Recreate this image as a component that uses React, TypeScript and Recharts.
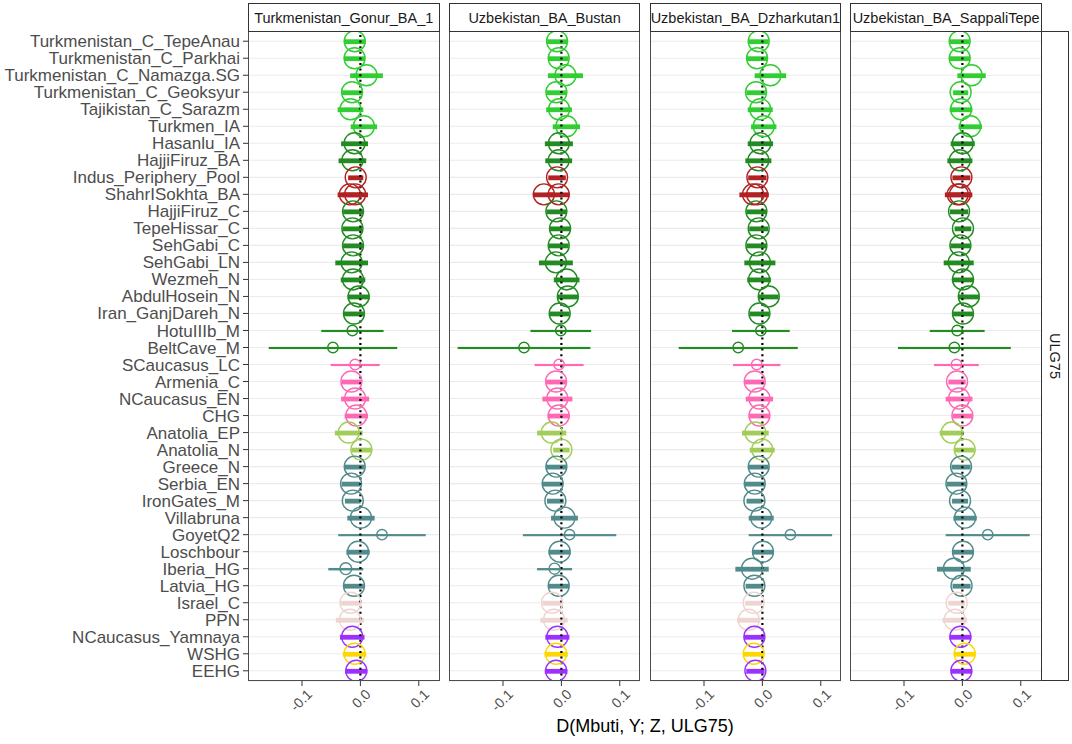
import React from 'react';
import {
  ComposedChart,
  CartesianGrid,
  XAxis,
  YAxis,
  Bar,
  Scatter,
  ReferenceLine,
} from 'recharts';

// populations (Y), ShahrISokhta_BA appears twice (two sample sets on the same row)
const populations = [
  'Turkmenistan_C_TepeAnau',
  'Turkmenistan_C_Parkhai',
  'Turkmenistan_C_Namazga.SG',
  'Turkmenistan_C_Geoksyur',
  'Tajikistan_C_Sarazm',
  'Turkmen_IA',
  'Hasanlu_IA',
  'HajjiFiruz_BA',
  'Indus_Periphery_Pool',
  'ShahrISokhta_BA',
  'ShahrISokhta_BA',
  'HajjiFiruz_C',
  'TepeHissar_C',
  'SehGabi_C',
  'SehGabi_LN',
  'Wezmeh_N',
  'AbdulHosein_N',
  'Iran_GanjDareh_N',
  'HotuIIIb_M',
  'BeltCave_M',
  'SCaucasus_LC',
  'Armenia_C',
  'NCaucasus_EN',
  'CHG',
  'Anatolia_EP',
  'Anatolia_N',
  'Greece_N',
  'Serbia_EN',
  'IronGates_M',
  'Villabruna',
  'GoyetQ2',
  'Loschbour',
  'Iberia_HG',
  'Latvia_HG',
  'Israel_C',
  'PPN',
  'NCaucasus_Yamnaya',
  'WSHG',
  'EEHG',
];

const regions = [
  'turan', 'turan', 'turan', 'turan', 'turan', 'turan',
  'iran', 'iran',
  'indus', 'indus', 'indus',
  'iran', 'iran', 'iran', 'iran', 'iran', 'iran', 'iran', 'iran', 'iran',
  'caucasus', 'caucasus', 'caucasus', 'caucasus',
  'anatolia', 'anatolia',
  'europe', 'europe', 'europe', 'europe', 'europe', 'europe', 'europe', 'europe',
  'levant', 'levant',
  'steppe', 'wshg', 'steppe',
];

const regionColors: Record<string, string> = {
  turan: '#32CD32',
  iran: '#228B22',
  indus: '#B22222',
  caucasus: '#FF69B4',
  anatolia: '#A2CD5A',
  europe: '#528B8B',
  levant: '#EED5D2',
  steppe: '#9B30FF',
  wshg: '#FFD700',
};

const targets = [
  'Turkmenistan_Gonur_BA_1',
  'Uzbekistan_BA_Bustan',
  'Uzbekistan_BA_Dzharkutan1',
  'Uzbekistan_BA_SappaliTepe',
];
const outgroup = 'ULG75';
const xTicks = [-0.1, 0, 0.1];

// D statistic and standard error per target
const gonurD = [
  -0.0097, -0.01, 0.0105, -0.0143, -0.017, 0.006, -0.01, -0.0137, -0.008, -0.018,
  -0.009, -0.0126, -0.0137, -0.0126, -0.015, -0.0126, -0.003, -0.011, -0.0137, -0.047,
  -0.009, -0.0154, -0.009, -0.007, -0.02, 0.0017, -0.0097, -0.016, -0.013, 0.001,
  0.037, -0.004, -0.025, -0.011, -0.017, -0.018, -0.014, -0.01, -0.007,
];
const gonurSE = [
  0.0186, 0.018, 0.028, 0.017, 0.022, 0.0226, 0.023, 0.0237, 0.013, 0.021,
  0.022, 0.017, 0.017, 0.017, 0.028, 0.021, 0.019, 0.017, 0.0534, 0.11,
  0.042, 0.017, 0.024, 0.02, 0.0237, 0.017, 0.017, 0.016, 0.0134, 0.0234,
  0.075, 0.02, 0.03, 0.017, 0.016, 0.024, 0.021, 0.02, 0.019,
];
const bustanD = [
  -0.0074, -0.0046, 0.0069, -0.0086, -0.004, 0.0086, -0.0043, -0.0046, -0.0074, -0.03,
  -0.0046, -0.0086, -0.0023, -0.0046, -0.0094, 0.009, 0.011, -0.0029, -0.001, -0.064,
  -0.004, -0.0091, -0.0069, -0.0046, -0.0166, 0.0, -0.0086, -0.015, -0.0103, 0.0053,
  0.014, -0.003, -0.0117, -0.0046, -0.016, -0.0126, -0.0069, -0.0091, -0.0091,
];
const bustanSE = [
  0.017, 0.017, 0.03, 0.017, 0.022, 0.0234, 0.024, 0.023, 0.015, 0.019,
  0.019, 0.017, 0.018, 0.017, 0.029, 0.022, 0.0175, 0.017, 0.052, 0.1137,
  0.042, 0.017, 0.0257, 0.019, 0.025, 0.014, 0.018, 0.018, 0.0143, 0.023,
  0.08, 0.019, 0.03, 0.018, 0.016, 0.0234, 0.0206, 0.02, 0.0194,
];
const dzharkutanD = [
  -0.0063, -0.0091, 0.0137, -0.0109, -0.0037, 0.0023, -0.0034, -0.0069, -0.0086, -0.016,
  -0.009, -0.0103, -0.0063, -0.0103, -0.0043, -0.0057, 0.0109, -0.0051, -0.0026, -0.0414,
  -0.0097, -0.0131, -0.0051, -0.0051, -0.012, -0.0003, -0.0063, -0.0131, -0.0137, -0.002,
  0.048, 0.001, -0.0177, -0.0137, -0.0149, -0.0234, -0.0137, -0.0149, -0.012,
];
const dzharkutanSE = [
  0.017, 0.0177, 0.027, 0.0166, 0.0214, 0.0217, 0.0217, 0.0223, 0.0157, 0.0234,
  0.02, 0.017, 0.0163, 0.017, 0.0266, 0.0203, 0.017, 0.017, 0.0494, 0.102,
  0.0406, 0.0169, 0.0234, 0.018, 0.0229, 0.0214, 0.017, 0.017, 0.0134, 0.0214,
  0.0714, 0.0186, 0.0286, 0.015, 0.0146, 0.02, 0.0177, 0.0177, 0.0157,
];
const sappaliD = [
  -0.0046, -0.0046, 0.0157, -0.003, -0.0023, 0.0135, 0.0006, -0.0043, -0.0017, -0.008,
  -0.004, -0.0057, 0.001, -0.0034, -0.0063, 0.001, 0.011, 0.001, -0.0089, -0.0137,
  -0.0103, -0.0091, -0.0057, 0.0, -0.0183, 0.004, -0.0023, -0.0103, -0.004, 0.0046,
  0.0434, 0.001, -0.0146, -0.0014, -0.0097, -0.0131, -0.0034, 0.004, -0.0017,
];
const sappaliSE = [
  0.017, 0.0177, 0.0243, 0.0129, 0.0194, 0.02, 0.0206, 0.0214, 0.0154, 0.022,
  0.021, 0.0157, 0.0143, 0.017, 0.0257, 0.019, 0.018, 0.017, 0.047, 0.0966,
  0.0383, 0.0149, 0.0229, 0.017, 0.0206, 0.0166, 0.0163, 0.0166, 0.0137, 0.02,
  0.072, 0.0177, 0.0289, 0.0154, 0.0143, 0.0211, 0.0186, 0.0186, 0.0183,
];

// relative number of informative SNPs (drives point size / bar weight)
const small = [18, 19, 20, 30];
const snpWeight = (iberia: number) =>
  populations.map((p, i) => (small.includes(i) ? 0.2 : i === 32 ? iberia : 1));
const gonurW = snpWeight(0.3);
const bustanW = snpWeight(0.25);
const dzharkutanW = snpWeight(1);
const sappaliW = snpWeight(1);

const panels = [
  { d: gonurD, se: gonurSE, w: gonurW },
  { d: bustanD, se: bustanSE, w: bustanW },
  { d: dzharkutanD, se: dzharkutanSE, w: dzharkutanW },
  { d: sappaliD, se: sappaliSE, w: sappaliW },
];

const rowLabels = populations.filter((p, i) => populations.indexOf(p) === i);
const rowTicks = rowLabels.map((_, i) => i);

const FONT = '"Liberation Sans", Arial, Helvetica, sans-serif';
const PLOT_TOP = 31;
const PLOT_H = 650;
const PANEL_W = 191.5;
const FIRST_LEFT = 248;
const STEP = 200.8;
const AXIS_H = 60;

const buildRows = (p: { d: number[]; se: number[]; w: number[] }) =>
  populations.map((name, i) => ({
    name,
    row: rowLabels.indexOf(name),
    est: p.d[i],
    range: [p.d[i] - p.se[i], p.d[i] + p.se[i]],
    w: p.w[i],
    color: regionColors[regions[i]],
  }));

const ErrShape = (props: any) => {
  const { x, y, width, height, payload } = props;
  if (x == null || y == null) return null;
  const cy = y + height / 2;
  const t = 1.5 + 3.3 * payload.w;
  return <rect x={x} y={cy - t / 2} width={Math.max(width, 0)} height={t} fill={payload.color} />;
};

const PointShape = (props: any) => {
  const { cx, cy, payload } = props;
  if (cx == null || cy == null) return null;
  return (
    <circle
      cx={cx}
      cy={cy}
      r={3.9 + 6.6 * payload.w}
      fill="none"
      stroke={payload.color}
      strokeWidth={1.4}
    />
  );
};

const XTick = (props: any) => {
  const { x, y, payload } = props;
  return (
    <text
      x={x + 4}
      y={y}
      transform={`rotate(-45, ${x + 4}, ${y})`}
      textAnchor="end"
      dy="0.72em"
      fill="#4D4D4D"
      fontSize={14}
      fontFamily={FONT}
    >
      {Number(payload.value).toFixed(1)}
    </text>
  );
};

function Panel({ index }: { index: number }) {
  const first = index === 0;
  const rows = buildRows(panels[index]);
  return (
    <ComposedChart
      width={first ? FIRST_LEFT + PANEL_W : PANEL_W}
      height={PLOT_H + AXIS_H}
      data={rows}
      layout="vertical"
      margin={{ top: 0, right: 0, bottom: 0, left: 0 }}
    >
      <CartesianGrid vertical={false} stroke="#EBEBEB" strokeWidth={1.1} />
      <XAxis
        type="number"
        domain={[-0.1925, 0.1355]}
        allowDataOverflow
        ticks={xTicks}
        interval={0}
        tick={<XTick />}
        tickSize={5}
        tickLine={{ stroke: '#333333' }}
        axisLine={false}
        height={AXIS_H}
      />
      <YAxis
        type="number"
        dataKey="row"
        domain={[-0.6, 37.6]}
        allowDataOverflow
        ticks={rowTicks}
        interval={0}
        hide={!first}
        width={first ? FIRST_LEFT : 0}
        tickFormatter={(v: number) => rowLabels[v]}
        tick={{ fill: '#4D4D4D', fontSize: 17, fontFamily: FONT }}
        tickSize={5}
        tickMargin={3}
        tickLine={{ stroke: '#333333' }}
        axisLine={false}
      />
      <Scatter dataKey="est" isAnimationActive={false} shape={PointShape} />
      <Bar dataKey="range" barSize={6} isAnimationActive={false} shape={ErrShape} />
      <ReferenceLine x={0} stroke="#000000" strokeWidth={2.2} strokeDasharray="2 3.6" />
    </ComposedChart>
  );
}

export default function App() {
  return (
    <div
      style={{
        position: 'absolute',
        left: 0,
        top: 0,
        width: 1072,
        height: 744,
        background: '#ffffff',
        fontFamily: FONT,
      }}
    >
      {targets.map((t, i) => {
        const left = FIRST_LEFT + i * STEP;
        return (
          <React.Fragment key={t}>
            <div style={{ position: 'absolute', left: i === 0 ? 0 : left, top: PLOT_TOP }}>
              <Panel index={i} />
            </div>
            <div
              style={{
                position: 'absolute',
                left,
                top: PLOT_TOP,
                width: PANEL_W,
                height: PLOT_H,
                border: '1px solid #4D4D4D',
                boxSizing: 'border-box',
                pointerEvents: 'none',
              }}
            />
            <div
              style={{
                position: 'absolute',
                left,
                top: 3,
                width: PANEL_W,
                height: 29,
                border: '1px solid #333333',
                boxSizing: 'border-box',
                display: 'flex',
                alignItems: 'center',
                justifyContent: 'center',
                fontSize: 14.5,
                color: '#1A1A1A',
                whiteSpace: 'nowrap',
                overflow: 'hidden',
              }}
            >
              {t}
            </div>
          </React.Fragment>
        );
      })}
      <div
        style={{
          position: 'absolute',
          left: FIRST_LEFT + 3 * STEP + PANEL_W - 1,
          top: PLOT_TOP,
          width: 28.5,
          height: PLOT_H,
          border: '1px solid #333333',
          boxSizing: 'border-box',
          display: 'flex',
          alignItems: 'center',
          justifyContent: 'center',
        }}
      >
        <span style={{ transform: 'rotate(90deg)', fontSize: 14.5, color: '#1A1A1A' }}>
          {outgroup}
        </span>
      </div>
      <div
        style={{
          position: 'absolute',
          left: FIRST_LEFT,
          width: 3 * STEP + PANEL_W,
          top: 716,
          textAlign: 'center',
          fontSize: 18,
          color: '#000000',
          whiteSpace: 'nowrap',
        }}
      >
        D(Mbuti, Y; Z, ULG75)
      </div>
    </div>
  );
}
